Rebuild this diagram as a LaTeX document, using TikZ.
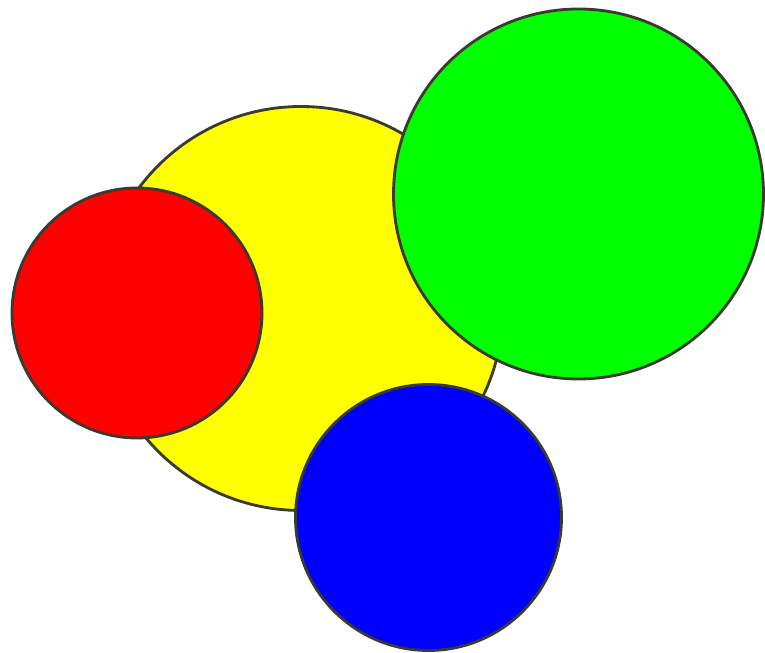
\documentclass[tikz,border=0pt]{standalone}
\usepackage{tikz}
\definecolor{rimgray}{RGB}{58,58,48}
\definecolor{discyellow}{RGB}{255,255,0}
\definecolor{discred}{RGB}{255,0,0}
\definecolor{discgreen}{RGB}{0,255,0}
\definecolor{discblue}{RGB}{0,0,255}
\tikzset{
  disc/.style = {draw=rimgray, line width=0.8pt, circle, inner sep=0pt},
}

\begin{document}
\begin{tikzpicture}
\useasboundingbox (0,0) rectangle (7.65,6.53);
\node[disc, fill=discyellow, minimum size=4.04cm] (yellowdisc) at (3.01,3.445) {};
\node[disc, fill=discred,    minimum size=2.50cm] (reddisc)    at (1.37,3.40) {};
\node[disc, fill=discgreen,  minimum size=3.70cm] (greendisc)  at (5.785,4.59) {};
\node[disc, fill=discblue,   minimum size=2.66cm] (bluedisc)   at (4.285,1.355) {};
\end{tikzpicture}
\end{document}
